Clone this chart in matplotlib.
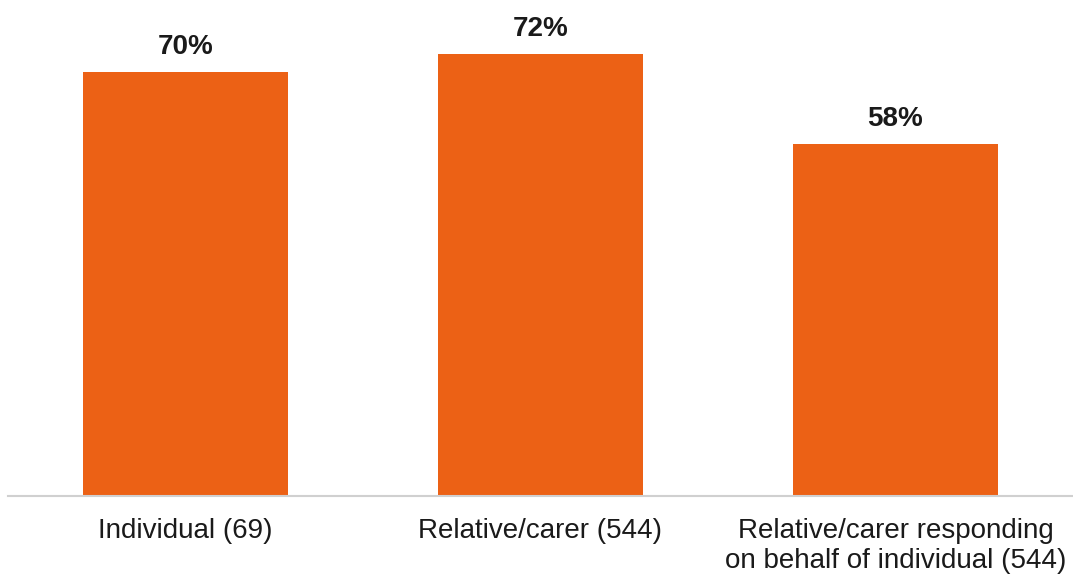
import matplotlib.pyplot as plt
import numpy as np

plt.rcParams['font.family'] = ['Liberation Sans', 'DejaVu Sans']

categories = ['Individual (69)', 'Relative/carer (544)',
              'Relative/carer responding\non behalf of individual (544)']
values = [69.5, 72.5, 57.7]          # bar heights as drawn
labels = ['70%', '72%', '58%']       # labels shown on the chart

fig = plt.figure(figsize=(10.73, 5.77), dpi=100)
ax = fig.add_axes([8 / 1073, 81 / 577, 1 - 8 / 1073, 1 - 81 / 577])

x = np.arange(len(categories))
bars = ax.bar(x, values, width=0.575, color='#EC6115')
ax.bar_label(bars, labels=labels, padding=8.5,
             fontsize=20, fontweight='bold', color='#1a1a1a')

ax.set_xlim(-0.5, 2.5)
ax.set_ylim(0, 81.3)
ax.set_xticks(x)
ax.set_xticklabels(categories, fontsize=20, color='#1a1a1a', linespacing=1.2)
ax.tick_params(axis='x', length=0, pad=16)
ax.set_yticks([])
for s in ['top', 'right', 'left']:
    ax.spines[s].set_visible(False)
ax.spines['bottom'].set_color('#D0D0D0')
ax.spines['bottom'].set_linewidth(1.5)

fig.savefig('out.png', dpi=100)
